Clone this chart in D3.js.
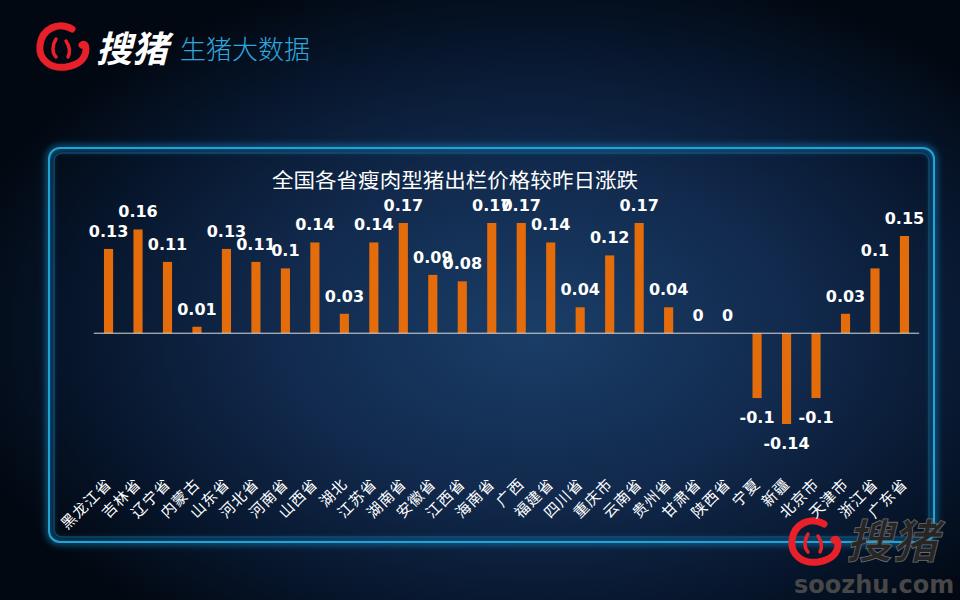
<!DOCTYPE html>
<html><head><meta charset="utf-8">
<script src="https://cdn.jsdelivr.net/npm/d3@7"></script>
<style>html,body{margin:0;padding:0;background:#020812;}svg{display:block;}</style>
</head><body>
<svg id="c" width="960" height="600"></svg>
<script>
const categories = ["黑龙江省","吉林省","辽宁省","内蒙古","山东省","河北省","河南省","山西省","湖北","江苏省","湖南省","安徽省","江西省","海南省","广西","福建省","四川省","重庆市","云南省","贵州省","甘肃省","陕西省","宁夏","新疆","北京市","天津市","浙江省","广东省"];
const values = [0.13,0.16,0.11,0.01,0.13,0.11,0.1,0.14,0.03,0.14,0.17,0.09,0.08,0.17,0.17,0.14,0.04,0.12,0.17,0.04,0,0,-0.1,-0.14,-0.1,0.03,0.1,0.15];
const titleText = "全国各省瘦肉型猪出栏价格较昨日涨跌";
const brandText = "搜猪";
const subText = "生猪大数据";
const siteText = "soozhu.com";

const svg = d3.select("#c");
const defs = svg.append("defs");
const bg = defs.append("radialGradient").attr("id","bg").attr("cx","0.56").attr("cy","0.55").attr("r","0.62");
bg.append("stop").attr("offset","0").attr("stop-color","#1a3e68");
bg.append("stop").attr("offset","0.45").attr("stop-color","#11294c");
bg.append("stop").attr("offset","0.8").attr("stop-color","#061429");
bg.append("stop").attr("offset","1").attr("stop-color","#020811");
const glow = defs.append("filter").attr("id","glow").attr("x","-10%").attr("y","-10%").attr("width","120%").attr("height","120%");
glow.append("feGaussianBlur").attr("stdDeviation","3");

svg.append("rect").attr("width",960).attr("height",600).attr("fill","url(#bg)");

// panel frame
svg.append("rect").attr("x",49).attr("y",148).attr("width",885).attr("height",394).attr("rx",11)
  .attr("fill","none").attr("stroke","#1787c0").attr("stroke-width",7).attr("opacity",0.55).attr("filter","url(#glow)");
svg.append("rect").attr("x",49).attr("y",148).attr("width",885).attr("height",394).attr("rx",11)
  .attr("fill","none").attr("stroke","#22a3d8").attr("stroke-width",2);
svg.append("rect").attr("x",54).attr("y",153).attr("width",875).attr("height",384).attr("rx",8)
  .attr("fill","none").attr("stroke","#145f8c").attr("stroke-width",1.5).attr("opacity",0.6);

function logo(g, s, col){
  const lg = g.append("g");
  lg.append("path").attr("d","M34,6 C20,-2 4,6 2,22 C0,38 14,46 28,44 C40,42 48,36 48,26 C48,22 46,20 44,22")
    .attr("fill","none").attr("stroke",col).attr("stroke-width",7).attr("stroke-linecap","round");
  lg.append("path").attr("d","M18,16 C14,22 14,30 18,34").attr("fill","none").attr("stroke",col).attr("stroke-width",3.5).attr("stroke-linecap","round");
  lg.append("path").attr("d","M28,18 C32,24 32,30 30,34").attr("fill","none").attr("stroke",col).attr("stroke-width",3.5).attr("stroke-linecap","round");
  lg.attr("transform",`scale(${s})`);
  return lg;
}
logo(svg.append("g").attr("transform","translate(38,23)"), 1, "#e8202a");
svg.append("text").attr("x",96).attr("y",62).text(brandText)
  .attr("font-family","Noto Sans CJK SC").attr("font-weight",700).attr("font-size",36).attr("fill","#ffffff").attr("font-style","italic");
svg.append("text").attr("x",180).attr("y",59).text(subText)
  .attr("font-family","Noto Sans CJK SC").attr("font-weight",300).attr("font-size",26).attr("fill","#2ea7de");

// watermark bottom right
logo(svg.append("g").attr("transform","translate(790,518)"), 1.0, "#e8202a");
svg.append("text").attr("x",846).attr("y",558).text(brandText)
  .attr("font-family","Noto Sans CJK SC").attr("font-weight",700).attr("font-size",46).attr("fill","#262626")
  .attr("stroke","#6a6a6a").attr("stroke-width",0.8).attr("font-style","italic");
svg.append("text").attr("x",794).attr("y",593).text(siteText)
  .attr("font-family","DejaVu Sans").attr("font-weight",700).attr("font-size",24).attr("fill","#474747");

// chart
const x = d3.scaleBand().domain(categories).range([93.8,919.2]).padding(0);
const y = d3.scaleLinear().domain([-0.14,0.17]).range([424,223]);
const bw = x.bandwidth()*0.31;
const cx = d => x(d) + x.bandwidth()/2;
const data = categories.map((c,i)=>({c, v: values[i]}));

svg.append("text").attr("x",455).attr("y",188).attr("text-anchor","middle").text(titleText)
  .attr("font-family","Noto Sans CJK SC").attr("font-size",20).attr("fill","#ffffff")
  .attr("textLength",366).attr("lengthAdjust","spacingAndGlyphs");

svg.append("g").selectAll("rect").data(data).join("rect")
  .attr("x",d=>cx(d.c)-bw/2).attr("width",bw)
  .attr("y",d=>y(Math.max(0,d.v))).attr("height",d=>Math.abs(y(d.v)-y(0)))
  .attr("fill","#e46c0a");

svg.append("line").attr("x1",x.range()[0]).attr("x2",x.range()[1]).attr("y1",y(0)).attr("y2",y(0))
  .attr("stroke","#d9d9d9").attr("stroke-width",1);

svg.append("g").selectAll("text").data(data).join("text")
  .attr("x",d=>cx(d.c)).attr("y",d=>d.v<0 ? y(d.v)+25 : y(d.v)-12)
  .attr("text-anchor","middle").text(d=>String(d.v))
  .attr("font-family","DejaVu Sans").attr("font-weight",700).attr("font-size",16).attr("fill","#ffffff");

const xAxis = d3.axisBottom(x).tickSize(0).tickPadding(0);
const ax = svg.append("g").call(xAxis);
ax.select(".domain").remove();
ax.selectAll(".tick").attr("transform",d=>`translate(${cx(d)+4},485)`);
ax.selectAll(".tick text").attr("y",0).attr("dy",0).attr("x",0)
  .attr("transform","rotate(-45)").attr("text-anchor","end")
  .attr("font-family","Noto Sans CJK SC").attr("font-size",15).attr("letter-spacing",1).attr("fill","#ffffff");
</script>
</body></html>
